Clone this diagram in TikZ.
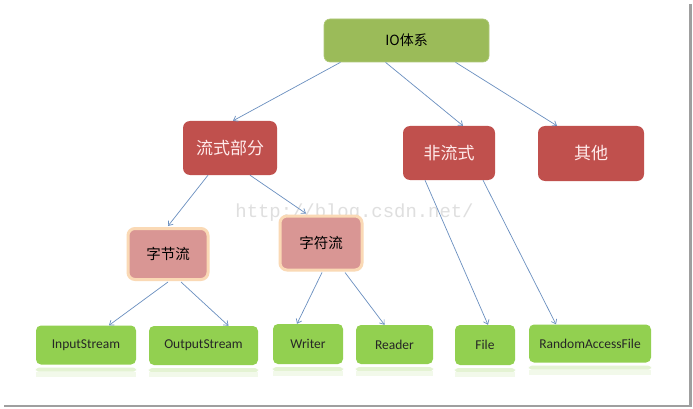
\documentclass[tikz,border=0pt]{standalone}
\usepackage{fontspec}
\newfontfamily\cjkfont{Noto Sans CJK SC}
\newfontfamily\leaffont{Carlito}
\newfontfamily\markfont{Liberation Mono}
\usetikzlibrary{arrows.meta,positioning}
\definecolor{topgreen}{HTML}{9BBB59}
\definecolor{boxred}{HTML}{C0504D}
\definecolor{boxpink}{HTML}{D99694}
\definecolor{glow}{HTML}{FAD9B5}
\definecolor{leafgreen}{HTML}{92D050}
\definecolor{linkblue}{HTML}{6A8FC0}
\tikzset{
  top box/.style={rounded corners=6pt,fill=topgreen,draw=topgreen!80!white,line width=0.6pt,inner sep=0pt,font=\cjkfont\fontsize{14}{16}\selectfont},
  red box/.style={rounded corners=7pt,fill=boxred,inner sep=0pt,text=white!92!red,font=\cjkfont\fontsize{17}{20}\selectfont},
  pink box/.style={rounded corners=7pt,fill=boxpink,draw=glow,line width=3pt,inner sep=0pt,font=\cjkfont\fontsize{14.5}{17}\selectfont},
  leaf box/.style={rounded corners=5pt,fill=leafgreen,inner sep=0pt,text=black!85,font=\leaffont\fontsize{13.5}{15}\selectfont},
  link/.style={linkblue,line width=0.7pt,-{Straight Barb[length=4pt,width=6pt]}},
}
\begin{document}
\begin{tikzpicture}[x=1pt,y=-1pt]
  \useasboundingbox (0,0) rectangle (693,409);
  \fill[white] (0,0) rectangle (693,409);
  \draw[gray!75,line width=2.5pt] (690.5,4) -- (690.5,406) -- (4,406);
  \node[text=gray!25,font=\markfont\fontsize{18.9}{21}\selectfont] (mark) at (354.5,213) {http://blog.csdn.net/};
  \node[top box,minimum width=165pt,minimum height=43pt] (io) at (406.5,40.5) {IO体系};
  \node[red box,minimum width=94pt,minimum height=54pt] (liushi) at (230,148) {流式部分};
  \node[red box,minimum width=92pt,minimum height=54pt] (feiliu) at (449,153) {非流式};
  \node[red box,minimum width=106pt,minimum height=55pt] (qita) at (591,153.5) {其他};
  \node[pink box,minimum width=80pt,minimum height=51pt] (zijie) at (168,254) {字节流};
  \node[pink box,minimum width=82pt,minimum height=54pt] (zifu) at (321,243) {字符流};
  \node[leaf box,minimum width=100pt,minimum height=39pt] (input) at (86,345) {InputStream};
  \node[leaf box,minimum width=109pt,minimum height=39pt] (output) at (203.5,345.5) {OutputStream};
  \node[leaf box,minimum width=70pt,minimum height=40pt] (writer) at (308,344) {Writer};
  \node[leaf box,minimum width=77pt,minimum height=39pt] (reader) at (394.5,344.5) {Reader};
  \node[leaf box,minimum width=60pt,minimum height=40pt] (file) at (485,345) {File};
  \node[leaf box,minimum width=122pt,minimum height=38pt] (raf) at (590,343.5) {RandomAccessFile};
  \foreach \leaf in {input,output,writer,reader,file,raf}{
    \fill[leafgreen!25,rounded corners=3pt] ([yshift=-3pt]\leaf.south west) rectangle ([yshift=-7pt]\leaf.south east);
    \fill[leafgreen!12] ([yshift=-7pt]\leaf.south west) rectangle ([yshift=-12pt]\leaf.south east);
  }
  \draw[link] ([xshift=-66pt]io.south) -- ([xshift=3pt]liushi.north);
  \draw[link] ([xshift=-21pt]io.south) -- ([xshift=14pt]feiliu.north);
  \draw[link] ([xshift=49pt]io.south) -- ([xshift=-34pt]qita.north);
  \draw[link] ([xshift=-22pt]liushi.south) -- ([yshift=1pt]zijie.north);
  \draw[link] ([xshift=20pt]liushi.south) -- ([xshift=-15pt,yshift=1pt]zifu.north);
  \draw[link] ([xshift=-24pt]feiliu.south) -- ([xshift=3pt]file.north);
  \draw[link] ([xshift=34pt]feiliu.south) -- ([xshift=-34pt]raf.north);
  \draw[link] ([yshift=-1pt]zijie.south) -- ([xshift=23pt]input.north);
  \draw[link] ([xshift=13pt,yshift=-1pt]zijie.south) -- ([xshift=25pt]output.north);
  \draw[link] ([xshift=1pt,yshift=-1pt]zifu.south) -- ([xshift=-11pt]writer.north);
  \draw[link] ([xshift=24pt,yshift=-1pt]zifu.south) -- ([xshift=-10pt]reader.north);
\end{tikzpicture}
\end{document}
